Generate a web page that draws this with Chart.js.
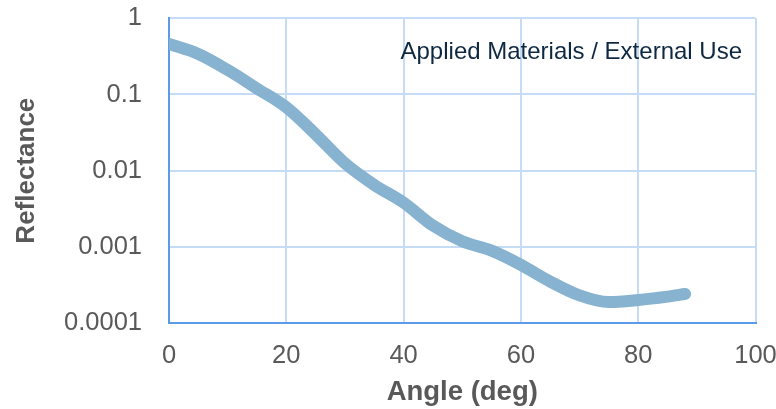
<!DOCTYPE html>
<html>
<head>
<meta charset="utf-8">
<script src="https://cdn.jsdelivr.net/npm/chart.js@4"></script>
<style>
  html, body { margin: 0; padding: 0; background: #fff; }
  #wrap { width: 776px; height: 409px; position: relative; }
</style>
</head>
<body>
<div id="wrap"><canvas id="chart"></canvas></div>
<script>
const angles = [0, 5, 10, 15, 20, 25, 30, 35, 40, 45, 50, 55, 60, 65, 70, 75, 80, 85, 88];
const reflectance = [0.46, 0.34, 0.21, 0.12, 0.068, 0.030, 0.0125, 0.0065, 0.0038, 0.0019,
  0.00118, 0.00089, 0.00058, 0.00035, 0.00023, 0.000188, 0.0002, 0.000222, 0.00024];
const yTicks = [0.0001, 0.001, 0.01, 0.1, 1];
const note = 'Applied Materials / External Use';

const gridColor = '#c5dcf7';
const axisColor = '#5b9bea';
const textColor = '#595959';
const fontFamily = '"Liberation Sans", Arial, sans-serif';

const noteLabel = {
  id: 'noteLabel',
  afterDraw(chart) {
    const { ctx } = chart;
    ctx.save();
    ctx.font = '24px ' + fontFamily;
    ctx.fillStyle = '#0e2841';
    ctx.textAlign = 'right';
    ctx.textBaseline = 'alphabetic';
    ctx.fillText(note, 742, 59);
    ctx.restore();
  }
};

new Chart(document.getElementById('chart'), {
  type: 'line',
  data: {
    datasets: [{
      data: angles.map((a, i) => ({ x: a, y: reflectance[i] })),
      borderColor: '#87b2d0',
      borderWidth: 12,
      borderCapStyle: 'round',
      borderJoinStyle: 'round',
      cubicInterpolationMode: 'monotone',
      pointRadius: 0,
      clip: 0
    }]
  },
  options: {
    responsive: true,
    maintainAspectRatio: false,
    animation: false,
    layout: { padding: { left: 0, right: 20.5, top: 18.3, bottom: 0 } },
    plugins: { legend: { display: false }, tooltip: { enabled: false } },
    scales: {
      x: {
        type: 'linear',
        min: 0, max: 100,
        ticks: {
          stepSize: 20,
          color: textColor,
          padding: 18,
          maxRotation: 0,
          font: { family: fontFamily, size: 25.5 }
        },
        grid: { color: gridColor, lineWidth: 2, drawTicks: false },
        border: { color: axisColor, width: 2 },
        title: {
          display: true,
          text: 'Angle (deg)',
          color: textColor,
          font: { family: fontFamily, size: 27.5, weight: 'bold' },
          padding: { top: 0, bottom: 0 }
        },
        afterFit(scale) {
          scale.height = 86;
          scale.paddingLeft = 0;
          scale.paddingRight = 0;
        }
      },
      y: {
        type: 'logarithmic',
        min: 0.0001, max: 1,
        afterBuildTicks(scale) { scale.ticks = yTicks.map(v => ({ value: v })); },
        ticks: {
          color: textColor,
          padding: 27,
          callback: v => String(v),
          font: { family: fontFamily, size: 25.5 }
        },
        grid: { color: gridColor, lineWidth: 2, drawTicks: false },
        border: { color: axisColor, width: 2 },
        title: {
          display: true,
          text: 'Reflectance',
          color: textColor,
          font: { family: fontFamily, size: 26, weight: 'bold' },
          padding: { top: 11, bottom: 0 }
        },
        afterFit(scale) {
          scale.width = 169;
          scale.paddingTop = 0;
          scale.paddingBottom = 0;
        }
      }
    }
  },
  plugins: [noteLabel]
});
</script>
</body>
</html>
